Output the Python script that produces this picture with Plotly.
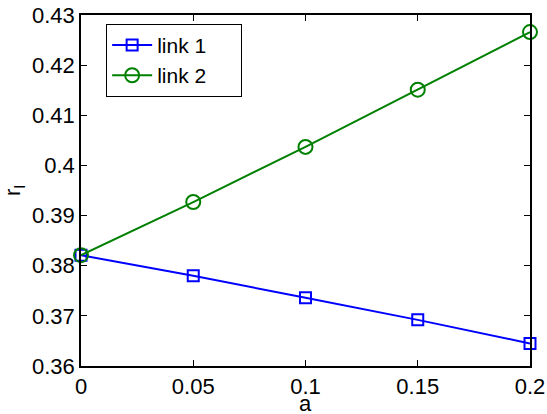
import plotly.graph_objects as go

# Parameter a and the resulting r_l for each link
a_values = [0.0, 0.05, 0.10, 0.15, 0.20]
link1 = [0.3821, 0.3780, 0.3736, 0.3692, 0.3645]
link2 = [0.3821, 0.3927, 0.4037, 0.4151, 0.4266]

x_ticks = [0, 0.05, 0.1, 0.15, 0.2]
x_tick_labels = ["0", "0.05", "0.1", "0.15", "0.2"]
y_ticks = [0.36, 0.37, 0.38, 0.39, 0.40, 0.41, 0.42, 0.43]
y_tick_labels = ["0.36", "0.37", "0.38", "0.39", "0.4", "0.41", "0.42", "0.43"]
series_names = ["link 1", "link 2"]

FONT = "Liberation Sans, Arial, sans-serif"
PAD = "\u00a0" * 5

fig = go.Figure()
fig.add_trace(go.Scatter(
    x=a_values, y=link1, name=series_names[0] + PAD, mode="lines+markers",
    line=dict(color="#0000ff", width=2),
    marker=dict(symbol="square-open", size=11, color="#0000ff",
                line=dict(width=2, color="#0000ff")),
    cliponaxis=False,
))
fig.add_trace(go.Scatter(
    x=a_values, y=link2, name=series_names[1] + PAD, mode="lines+markers",
    line=dict(color="#008000", width=2),
    marker=dict(symbol="circle-open", size=14, color="#008000",
                line=dict(width=2, color="#008000")),
    cliponaxis=False,
))

axis_common = dict(
    showgrid=False, zeroline=False, showline=True, linecolor="black",
    linewidth=1.5, mirror="ticks", ticks="inside", ticklen=6,
    tickcolor="black", tickwidth=1, automargin=False,
    tickfont=dict(family=FONT, size=22, color="black"),
)

fig.update_layout(
    width=547, height=414,
    margin=dict(l=81, r=17, t=15, b=48),
    paper_bgcolor="white", plot_bgcolor="white",
    font=dict(family=FONT, color="black"),
    xaxis=dict(range=[0, 0.2], tickvals=x_ticks, ticktext=x_tick_labels,
               ticklabelstandoff=0, **axis_common),
    yaxis=dict(range=[0.36, 0.43], tickvals=y_ticks, ticktext=y_tick_labels,
               title=dict(text="r<sub>l</sub>", font=dict(family=FONT, size=22), standoff=6),
               **axis_common),
    legend=dict(x=0.056, y=0.975, xanchor="left", yanchor="top",
                bordercolor="black", borderwidth=1, bgcolor="white",
                font=dict(family=FONT, size=21, color="black"),
                tracegroupgap=0, itemwidth=40),
    showlegend=True,
)

# x-axis title, placed just under the tick labels
fig.add_annotation(text="a", xref="paper", yref="paper", x=0.5, y=-0.108,
                   xanchor="center", yanchor="middle", showarrow=False,
                   font=dict(family=FONT, size=22, color="black"))

fig.write_html("out.html")
